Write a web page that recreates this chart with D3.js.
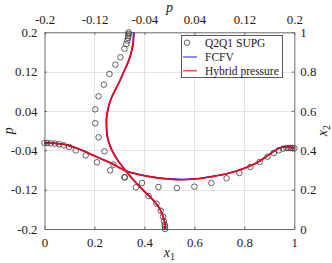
<!DOCTYPE html>
<html><head><meta charset="utf-8">
<script src="https://cdn.jsdelivr.net/npm/d3@7"></script>
<style>
html,body{margin:0;padding:0;background:#fff;}
svg text{font-family:"Liberation Serif","Times New Roman",serif;fill:#1a1a1a;}
</style></head>
<body><svg id="c" width="332" height="263"></svg>
<script>
// ---- data ----
const x1Ticks = [0, 0.2, 0.4, 0.6, 0.8, 1];
const x1TickLabels = ["0", "0.2", "0.4", "0.6", "0.8", "1"];
const pTicks = [-0.2, -0.12, -0.04, 0.04, 0.12, 0.2];
const pTickLabels = ["-0.2", "-0.12", "-0.04", "0.04", "0.12", "0.2"];
const x2Ticks = [0, 0.2, 0.4, 0.6, 0.8, 1];
const x2TickLabels = ["0", "0.2", "0.4", "0.6", "0.8", "1"];
const legendLabels = ["Q2Q1 SUPG", "FCFV", "Hybrid pressure"];

// horizontal cut: pressure p along x1
const supgX1 = [0, 0.011, 0.0245, 0.0417, 0.0589, 0.0774, 0.0986, 0.125, 0.165, 0.21, 0.263, 0.322, 0.39, 0.456, 0.53, 0.6, 0.668, 0.729, 0.78, 0.824, 0.861, 0.893, 0.918, 0.938, 0.955, 0.968, 0.977, 0.985, 0.992, 1.0];
const supgPx1 = [-0.0251, -0.0251, -0.0258, -0.0264, -0.0278, -0.0298, -0.0332, -0.04, -0.0502, -0.0644, -0.0807, -0.0949, -0.1064, -0.1146, -0.1166, -0.1139, -0.1064, -0.0969, -0.0861, -0.0739, -0.0637, -0.0529, -0.0454, -0.04, -0.0366, -0.0353, -0.0353, -0.0353, -0.0353, -0.0359];
const lineX1 = [0, 0.035, 0.075, 0.115, 0.154, 0.194, 0.234, 0.273, 0.323, 0.379, 0.445, 0.511, 0.551, 0.605, 0.67, 0.737, 0.803, 0.856, 0.895, 0.922, 0.942, 0.962, 0.981, 1.0];
const fcfvPx1 = [-0.0249, -0.0256, -0.0276, -0.0330, -0.0405, -0.0500, -0.0588, -0.0676, -0.0812, -0.0892, -0.0952, -0.0986, -0.0993, -0.0979, -0.0932, -0.0865, -0.0757, -0.0636, -0.0501, -0.0406, -0.0352, -0.0331, -0.0338, -0.0358];
const hybridPx1 = [-0.0251, -0.0258, -0.0278, -0.0332, -0.0407, -0.0502, -0.059, -0.0678, -0.0814, -0.0895, -0.0956, -0.099, -0.0997, -0.0983, -0.0936, -0.0868, -0.0759, -0.0637, -0.0502, -0.0407, -0.0353, -0.0332, -0.0339, -0.0359];

// vertical cut: pressure p along x2
const supgX2 = [1.0, 0.9915, 0.9814, 0.9712, 0.9576, 0.9407, 0.9169, 0.8729, 0.8356, 0.7881, 0.7339, 0.6746, 0.6085, 0.5373, 0.4661, 0.3949, 0.3271, 0.2627, 0.2119, 0.1678, 0.1288, 0.0932, 0.0627, 0.039, 0.022, 0.0119, 0.0];
const supgPx2 = [-0.0653, -0.0653, -0.0658, -0.0663, -0.0674, -0.069, -0.0721, -0.0785, -0.0864, -0.096, -0.105, -0.1134, -0.1187, -0.1187, -0.1134, -0.1039, -0.0896, -0.0721, -0.0536, -0.0335, -0.0208, -0.0139, -0.0102, -0.0086, -0.0075, -0.007, -0.007];
const lineX2 = [1.0, 0.95, 0.9, 0.85, 0.8, 0.75, 0.7, 0.65, 0.6, 0.55, 0.5, 0.45, 0.4, 0.35, 0.3, 0.25, 0.2, 0.15, 0.1, 0.05, 0.02, 0.0];
const fcfvPx2 = [-0.0571, -0.0578, -0.0608, -0.0658, -0.0728, -0.0798, -0.0878, -0.0948, -0.0988, -0.1008, -0.1003, -0.0978, -0.0918, -0.0828, -0.0708, -0.0578, -0.0428, -0.0268, -0.0148, -0.0088, -0.0069, -0.0069];
const hybridPx2 = [-0.0573, -0.058, -0.061, -0.066, -0.073, -0.08, -0.088, -0.095, -0.099, -0.101, -0.1005, -0.098, -0.092, -0.083, -0.071, -0.058, -0.043, -0.027, -0.015, -0.009, -0.007, -0.007];

// ---- layout ----
const L = 44.5, R = 294.3, T = 32.3, B = 229;
const svg = d3.select("#c");
const xB = d3.scaleLinear().domain([0, 1]).range([L, R]);       // bottom x1
const xT = d3.scaleLinear().domain([-0.2, 0.2]).range([L, R]);  // top p
const yL = d3.scaleLinear().domain([-0.2, 0.2]).range([B, T]);  // left p
const yR = d3.scaleLinear().domain([0, 1]).range([B, T]);       // right x2

const fs = 12.8;
// grid
const g = svg.append("g");
g.selectAll(".gv").data(x1Ticks.slice(1, -1)).enter().append("line")
  .attr("x1", d => Math.round(xB(d)) + 0.5).attr("x2", d => Math.round(xB(d)) + 0.5)
  .attr("y1", T).attr("y2", B).attr("stroke", "#e3e3e3").attr("stroke-width", 1);
g.selectAll(".gh").data(x2Ticks.slice(1, -1)).enter().append("line")
  .attr("y1", d => Math.round(yR(d)) + 0.5).attr("y2", d => Math.round(yR(d)) + 0.5)
  .attr("x1", L).attr("x2", R).attr("stroke", "#e3e3e3").attr("stroke-width", 1);

// axes
function ax(axis, tx, ty) {
  const a = svg.append("g").attr("transform", `translate(${tx},${ty})`).call(axis);
  a.select(".domain").attr("stroke", "#6a6a6a");
  a.selectAll(".tick line").attr("stroke", "#6a6a6a");
  a.selectAll("text").attr("font-size", fs).attr("font-family", "Liberation Serif").attr("fill", "#1a1a1a");
  return a;
}
const tl = -2.5;
ax(d3.axisBottom(xB).tickValues(x1Ticks).tickFormat((d, i) => x1TickLabels[i]).tickSizeInner(tl).tickSizeOuter(0).tickPadding(9), 0, B);
ax(d3.axisTop(xT).tickValues(pTicks).tickFormat((d, i) => pTickLabels[i]).tickSizeInner(tl).tickSizeOuter(0).tickPadding(8.5), 0, T);
ax(d3.axisLeft(yL).tickValues(pTicks).tickFormat((d, i) => pTickLabels[i]).tickSizeInner(tl).tickSizeOuter(0).tickPadding(7), L, 0);
ax(d3.axisRight(yR).tickValues(x2Ticks).tickFormat((d, i) => x2TickLabels[i]).tickSizeInner(tl).tickSizeOuter(0).tickPadding(6), R, 0);

// axis labels
const lfs = 14;
svg.append("text").attr("x", (L + R) / 2).attr("y", 12).attr("text-anchor", "middle")
  .attr("font-size", lfs).attr("font-style", "italic").text("p");
const xl = svg.append("text").attr("x", (L + R) / 2).attr("y", 257).attr("text-anchor", "middle")
  .attr("font-size", lfs).attr("font-style", "italic");
xl.append("tspan").text("x");
xl.append("tspan").attr("font-size", 10).attr("font-style", "normal").attr("dy", 3).text("1");
svg.append("text").attr("transform", `translate(13,${(T + B) / 2}) rotate(-90)`).attr("text-anchor", "middle")
  .attr("font-size", lfs).attr("font-style", "italic").text("p");
const yl2 = svg.append("text").attr("transform", `translate(327,${(T + B) / 2}) rotate(-90)`).attr("text-anchor", "middle")
  .attr("font-size", lfs).attr("font-style", "italic");
yl2.append("tspan").text("x");
yl2.append("tspan").attr("font-size", 10).attr("font-style", "normal").attr("dy", 3).text("2");

// markers
const mk = svg.append("g");
mk.selectAll(".m1").data(supgX1).enter().append("circle")
  .attr("cx", d => xB(d)).attr("cy", (d, i) => yL(supgPx1[i])).attr("r", 2.8)
  .attr("fill", "none").attr("stroke", "#3a3a3a").attr("stroke-width", 0.8);
mk.selectAll(".m2").data(supgX2).enter().append("circle")
  .attr("cx", (d, i) => xT(supgPx2[i])).attr("cy", d => yR(d)).attr("r", 2.8)
  .attr("fill", "none").attr("stroke", "#3a3a3a").attr("stroke-width", 0.8);

// lines
const lineH = d3.line().x(d => xB(d[0])).y(d => yL(d[1])).curve(d3.curveMonotoneX);
const lineV = d3.line().x(d => xT(d[1])).y(d => yR(d[0])).curve(d3.curveMonotoneY);
svg.append("clipPath").attr("id", "cp").append("rect").attr("x", L).attr("y", T).attr("width", R - L).attr("height", B - T);
const lg = svg.append("g").attr("clip-path", "url(#cp)");
lg.append("path").attr("d", lineH(lineX1.map((x, i) => [x, fcfvPx1[i]]))).attr("fill", "none").attr("stroke", "#0000ff").attr("stroke-width", 1.6);
lg.append("path").attr("d", lineV(lineX2.map((x, i) => [x, fcfvPx2[i]]))).attr("fill", "none").attr("stroke", "#0000ff").attr("stroke-width", 1.6);
lg.append("path").attr("d", lineH(lineX1.map((x, i) => [x, hybridPx1[i]]))).attr("fill", "none").attr("stroke", "#ff0000").attr("stroke-width", 1.6);
lg.append("path").attr("d", lineV(lineX2.map((x, i) => [x, hybridPx2[i]]))).attr("fill", "none").attr("stroke", "#ff0000").attr("stroke-width", 1.6);

// legend
const lgd = svg.append("g");
lgd.append("rect").attr("x", 181.5).attr("y", 35.5).attr("width", 101).attr("height", 42)
  .attr("fill", "#fff").attr("stroke", "#5a5a5a").attr("stroke-width", 1);
const rows = [42.7, 57, 70.7];
lgd.append("circle").attr("cx", 187).attr("cy", rows[0]).attr("r", 2.8).attr("fill", "none").attr("stroke", "#3a3a3a").attr("stroke-width", 0.8);
lgd.append("line").attr("x1", 183).attr("x2", 197).attr("y1", rows[1]).attr("y2", rows[1]).attr("stroke", "#7070ff").attr("stroke-width", 1.6);
lgd.append("line").attr("x1", 183).attr("x2", 197).attr("y1", rows[2]).attr("y2", rows[2]).attr("stroke", "#ff5050").attr("stroke-width", 1.6);
lgd.selectAll(".lt").data(legendLabels).enter().append("text")
  .attr("x", 205).attr("y", (d, i) => rows[i]).attr("dy", "0.35em").attr("font-size", 11.5).text(d => d);
</script></body></html>
